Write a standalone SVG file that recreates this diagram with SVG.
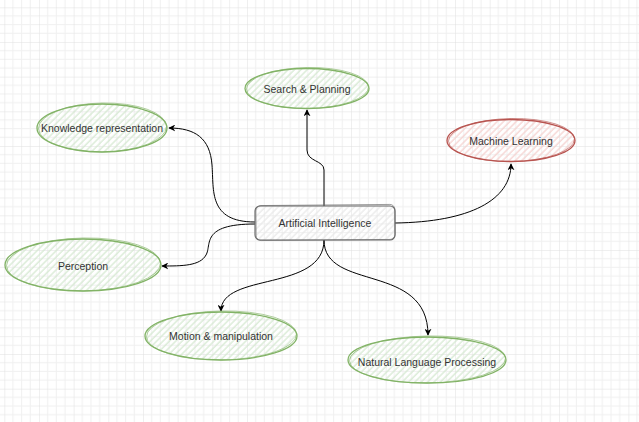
<svg xmlns="http://www.w3.org/2000/svg" width="639" height="422" viewBox="0 0 639 422">
<defs>
  <pattern id="grid" x="4.3" y="7.3" width="34.67" height="34.67" patternUnits="userSpaceOnUse">
    <path d="M8.67 0V34.67M17.33 0V34.67M26 0V34.67M0 8.67H34.67M0 17.33H34.67M0 26H34.67" stroke="#f0f0f0" stroke-width="1" fill="none"/>
    <path d="M0 0V34.67M0 0H34.67" stroke="#e0e0e0" stroke-width="1" fill="none"/>
  </pattern>
  <pattern id="hg" width="4.5" height="4.5" patternUnits="userSpaceOnUse" patternTransform="rotate(45)">
    <line x1="1" y1="0" x2="1" y2="4.5" stroke="#d3e8cf" stroke-width="1.2"/>
  </pattern>
  <pattern id="hr" width="4.5" height="4.5" patternUnits="userSpaceOnUse" patternTransform="rotate(45)">
    <line x1="1" y1="0" x2="1" y2="4.5" stroke="#f5cfcd" stroke-width="1.2"/>
  </pattern>
  <pattern id="hk" width="4.5" height="4.5" patternUnits="userSpaceOnUse" patternTransform="rotate(45)">
    <line x1="1" y1="0" x2="1" y2="4.5" stroke="#e8e8e8" stroke-width="1.2"/>
  </pattern>
  <marker id="arr" viewBox="0 0 10 10" refX="9" refY="5" markerWidth="7" markerHeight="7" orient="auto" markerUnits="userSpaceOnUse">
    <path d="M0 0L10 5L0 10L3 5Z" fill="#000"/>
  </marker>
  <style>
    .g { fill: url(#hg); stroke: #82b366; stroke-width: 1.3; }
    .g2 { fill: none; stroke: #82b366; stroke-width: 0.8; opacity: 0.8; }
    .r { fill: url(#hr); stroke: #b85450; stroke-width: 1.3; }
    .r2 { fill: none; stroke: #b85450; stroke-width: 0.8; opacity: 0.8; }
    .k { fill: url(#hk); stroke: #666; stroke-width: 1.1; }
    .k2 { fill: none; stroke: #666; stroke-width: 0.8; opacity: 0.8; }
    .t { font-family: "Liberation Sans", Arial, sans-serif; font-size: 10.5px; fill: #333; text-anchor: middle; dominant-baseline: central; }
    .c { fill: none; stroke: #000; stroke-width: 1; marker-end: url(#arr); }
  </style>
</defs>
<rect width="639" height="422" fill="#fff"/>
<rect width="639" height="422" fill="url(#grid)"/>

<g id="connectors">
  <path class="c" d="M324 206 L324 170 C324 160 307 162 307 150 L307 110"/>
  <path class="c" d="M395 223 C470 222 511 200 511 164"/>
  <path class="c" d="M324 240 C324 292 428 262 428 335"/>
  <path class="c" d="M324 240 C324 292 221 272 221 311"/>
  <path class="c" d="M255 222 C208 222 214 190 212 165 C210 138 195 128 169 128"/>
  <path class="c" d="M255 224 C200 224 212 245 206 255 C200 266 182 266 162 266"/>
</g>

<g id="search-planning">
  <ellipse class="g" cx="307" cy="88.5" rx="62" ry="20"/>
  <ellipse class="g2" cx="307.5" cy="88" rx="61" ry="20.5" transform="rotate(-1 307 88)"/>
  <text class="t" x="307" y="89">Search &amp; Planning</text>
</g>

<g id="knowledge-representation">
  <ellipse class="g" cx="102" cy="128" rx="65" ry="24"/>
  <ellipse class="g2" cx="102.5" cy="127.5" rx="64" ry="24.5" transform="rotate(-1 102 128)"/>
  <text class="t" x="102" y="128">Knowledge representation</text>
</g>

<g id="machine-learning">
  <ellipse class="r" cx="511" cy="140.5" rx="64" ry="21"/>
  <ellipse class="r2" cx="511.5" cy="140" rx="63" ry="21.5" transform="rotate(-1 511 140)"/>
  <text class="t" x="511" y="141">Machine Learning</text>
</g>

<g id="artificial-intelligence">
  <rect class="k" x="255" y="206" width="140" height="34" rx="5"/>
  <rect class="k2" x="256" y="205" width="139" height="35" rx="5" transform="rotate(-0.5 325 223)"/>
  <text class="t" x="325" y="223">Artificial Intelligence</text>
</g>

<g id="perception">
  <ellipse class="g" cx="83" cy="265" rx="78" ry="26"/>
  <ellipse class="g2" cx="83.5" cy="264.5" rx="77" ry="26.5" transform="rotate(-1 83 265)"/>
  <text class="t" x="83" y="266">Perception</text>
</g>

<g id="motion-manipulation">
  <ellipse class="g" cx="221" cy="336" rx="76" ry="24"/>
  <ellipse class="g2" cx="221.5" cy="335.5" rx="75" ry="24.5" transform="rotate(-1 221 336)"/>
  <text class="t" x="221" y="336">Motion &amp; manipulation</text>
</g>

<g id="natural-language-processing">
  <ellipse class="g" cx="427" cy="360" rx="79" ry="23"/>
  <ellipse class="g2" cx="427.5" cy="359.5" rx="78" ry="23.5" transform="rotate(-1 427 360)"/>
  <text class="t" x="427" y="362">Natural Language Processing</text>
</g>
</svg>
